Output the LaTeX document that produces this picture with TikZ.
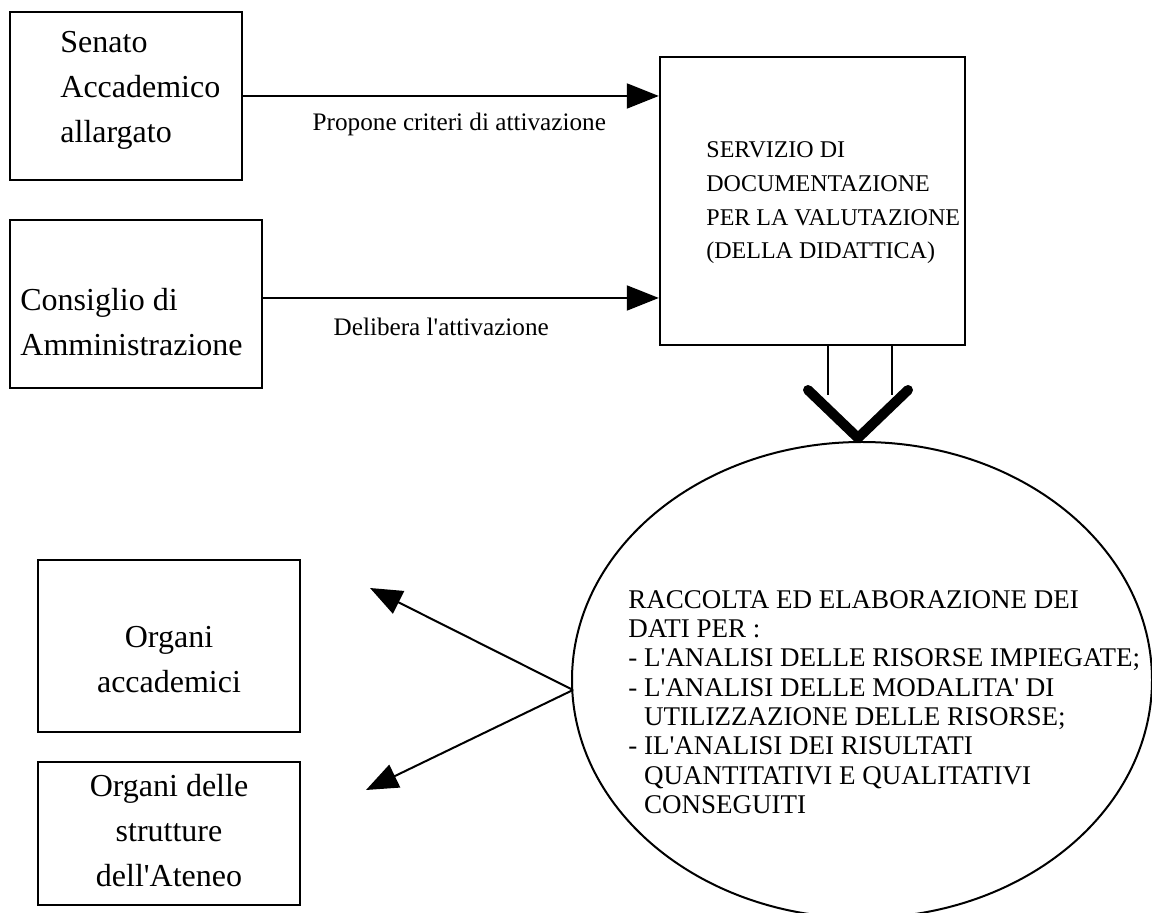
\documentclass[tikz,border=0pt]{standalone}
\usepackage{fontspec}
\setmainfont{Liberation Serif}
\usepackage{tikz}
\usetikzlibrary{arrows.meta, positioning, shapes.geometric}

\begin{document}
\begin{tikzpicture}[x=0.5pt, y=-0.5pt,
        box/.style={draw, line width=1.2pt, inner sep=0pt},
        big/.style={font=\fontsize{16}{22.5}\selectfont, inner sep=0pt},
        small/.style={font=\fontsize{12}{16.8}\selectfont, inner sep=0pt},
        lbl/.style={font=\fontsize{12.6}{14}\selectfont, inner sep=0pt},
        tiny/.style={font=\fontsize{13.5}{14.65}\selectfont, inner sep=0pt},
        flow/.style={line width=1pt, -{Triangle[length=16pt, width=12.5pt]}}]
        \useasboundingbox (0, 0) rectangle (1152, 913);
        % Boxes
        \node [box, minimum width=116pt, minimum height=84pt] (senato) at (126, 96) {};
        \node [box, minimum width=126pt, minimum height=84pt] (consiglio) at (136, 304) {};
        \node [box, minimum width=152.5pt, minimum height=144pt] (servizio) at (812.5, 201) {};
        \node [box, minimum width=131pt, minimum height=86pt] (accademici) at (169, 646) {};
        \node [box, minimum width=131pt, minimum height=71.5pt] (strutture) at (169, 833.5) {};
        % Ellipse
        \node [draw, ellipse, line width=1pt, inner sep=0pt,
               minimum width=290pt, minimum height=238pt] (raccolta) at (862, 680) {};
        % Texts
        \node [big, align=left, anchor=west] (senatotxt) at (60, 90) {Senato\\Accademico\\allargato};
        \node [big, align=left, anchor=west] (consigliotxt) at (20, 322) {Consiglio di\\Amministrazione};
        \node [small, align=left, anchor=west] (serviziotxt) at (706, 203) {SERVIZIO DI\\DOCUMENTAZIONE\\PER LA VALUTAZIONE\\(DELLA DIDATTICA)};
        \node [big, align=center] (accademicitxt) at (169, 660) {Organi\\accademici};
        \node [big, align=center] (strutturetxt) at (169, 831) {Organi delle\\strutture\\dell\textquotesingle Ateneo};
        \node [tiny, align=left, anchor=west] (raccoltatxt) at (628, 702) {RACCOLTA ED ELABORAZIONE DEI\\DATI PER :\\- L\textquotesingle ANALISI DELLE RISORSE IMPIEGATE;\\- L\textquotesingle ANALISI DELLE MODALITA\textquotesingle{} DI\\\hphantom{- }UTILIZZAZIONE DELLE RISORSE;\\- IL\textquotesingle ANALISI DEI RISULTATI\\\hphantom{- }QUANTITATIVI E QUALITATIVI\\\hphantom{- }CONSEGUITI};
        % Arrows to the service
        \draw [flow] (senato.east |- 0, 96) -- node [lbl, anchor=base, yshift=-17.5pt, pos=0.52] {Propone criteri di attivazione} (servizio.west |- 0, 96);
        \draw [flow] (consiglio.east |- 0, 298) -- node [lbl, anchor=base, yshift=-19pt, pos=0.45] {Delibera l\textquotesingle attivazione} (servizio.west |- 0, 298);
        % Chevron
        \coordinate (chevl) at (808, 390);
        \coordinate (chevtip) at (858, 438);
        \coordinate (chevr) at (908, 390);
        \draw [line width=1pt] (servizio.south -| 828, 0) -- (828, 395);
        \draw [line width=1pt] (servizio.south -| 892, 0) -- (892, 395);
        \draw [line width=5pt, line cap=round, line join=round] (chevl) -- (chevtip) -- (chevr);
        % Arrows to the organs
        \coordinate (start) at (573, 690);
        \coordinate (tipa) at (370, 588);
        \coordinate (tipb) at (366, 790);
        \draw [flow] (start) -- (tipa);
        \draw [flow] (start) -- (tipb);
\end{tikzpicture}
\end{document}
